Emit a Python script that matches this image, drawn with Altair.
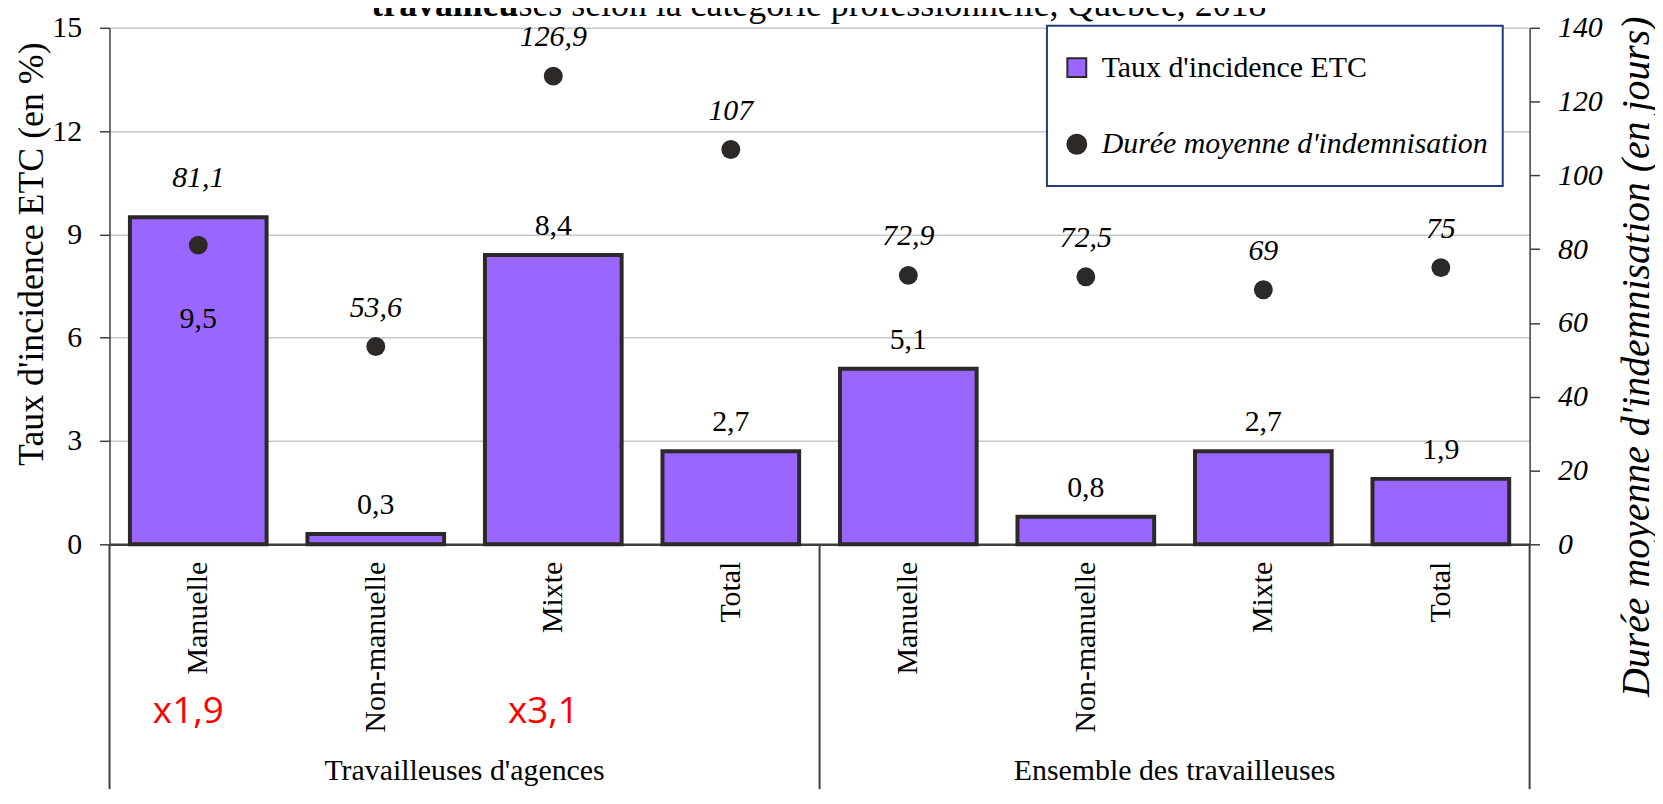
import json
import altair as alt
import pandas as pd

# ---------------- data ----------------
groups = ["Travailleuses d'agences"] * 4 + ["Ensemble des travailleuses"] * 4
group_names = ["Travailleuses d'agences", "Ensemble des travailleuses"]
categories = ["Manuelle", "Non-manuelle", "Mixte", "Total"] * 2
taux = [9.5, 0.3, 8.4, 2.7, 5.1, 0.8, 2.7, 1.9]
duree = [81.1, 53.6, 126.9, 107, 72.9, 72.5, 69, 75]
ratios = ["x1,9", "", "x3,1", "", "", "", "", ""]
series = ["Taux d'incidence ETC", "Durée moyenne d'indemnisation"]
title_bold = "travailleu"
title_rest = "ses selon la catégorie professionnelle, Québec, 2018"
left_ticks = [0, 3, 6, 9, 12, 15]
right_ticks = [0, 20, 40, 60, 80, 100, 120, 140]
left_title = "Taux d'incidence ETC (en %)"
right_title = "Durée moyenne d'indemnisation (en jours)"

keys = [f"{g}|{c}" for g, c in zip(groups, categories)]
df = pd.DataFrame({"groupe": groups, "categorie": categories, "key": keys,
                   "taux": taux, "duree": duree, "ratio": ratios})
gdf = pd.DataFrame({"groupe": group_names,
                    "key": [f"{g}|Non-manuelle" for g in group_names]})
tdf = pd.DataFrame({"bold": [title_bold], "rest": [title_rest]})

# ---------------- style ----------------
SERIF = "Liberation Serif"
PURPLE = "#9966ff"
DARK = "#2d2926"
GRID = "#c8c8c8"
AXIS = "#3f3f3f"
NAVY = "#203c7c"
W, H = 1427, 519
BOTTOM = 246

def xscale():
    return alt.Scale(domain=keys, paddingInner=0, paddingOuter=0)

def yl():
    return alt.Scale(domain=[0, 15], nice=False, zero=True)

def yr():
    return alt.Scale(domain=[0, 140], nice=False, zero=True)

fill_scale = alt.Scale(domain=series, range=[PURPLE, DARK])
shape_scale = alt.Scale(domain=series, range=["square", "circle"])

legend = alt.Legend(
    title=None, orient="none", legendX=942, legendY=-2, direction="vertical",
    fillColor="white", strokeColor=NAVY, padding=15, rowPadding=23, clipHeight=54,
    symbolSize=361, symbolStrokeColor=DARK, symbolStrokeWidth=2,
    labelFont=SERIF, labelFontSize=30, labelColor="black", labelOffset=10,
    labelLimit=700,
    labelFontStyle={"expr": "indexof(datum.label, 'Dur') == 0 ? 'italic' : 'normal'"},
)

x_axis = alt.Axis(
    title=None, labelExpr="split(datum.label, '|')[1]", labelAngle=270,
    labelFont=SERIF, labelFontSize=30, labelColor="black", labelPadding=17,
    ticks=False, domainColor=AXIS, domainWidth=2.5, labelLimit=400, grid=False,
)
left_axis = alt.Axis(
    orient="left", values=left_ticks, grid=True, gridColor=GRID, gridWidth=1.5,
    domainColor=AXIS, domainWidth=1.5, tickColor=AXIS, tickSize=10, tickWidth=1.5,
    labelFont=SERIF, labelFontSize=30, labelColor="black", labelPadding=18,
    title=left_title, titleFont=SERIF, titleFontSize=36, titleFontWeight="normal",
    titleColor="black", titleAngle=270, titleX=-78, titleY=227,
    titleAlign="center", titleBaseline="middle",
)
right_axis = alt.Axis(
    orient="right", values=right_ticks, grid=False,
    domainColor=AXIS, domainWidth=1.5, tickColor=AXIS, tickSize=10, tickWidth=1.5,
    labelFont=SERIF, labelFontSize=30, labelFontStyle="italic", labelColor="black",
    labelPadding=18,
    title=right_title, titleFont=SERIF, titleFontSize=40, titleFontWeight="normal",
    titleFontStyle="italic", titleColor="black", titleAngle=270, titleX=107, titleY=330,
    titleAlign="center", titleBaseline="middle",
)

base = alt.Chart(df)

def X(**kw):
    return alt.X("key:N", scale=xscale(), axis=x_axis, **kw)

bars = base.transform_calculate(serie=json.dumps(series[0])).mark_bar(
    stroke=DARK, strokeWidth=4, width=alt.RelativeBandSize(0.77)).encode(
    x=X(),
    y=alt.Y("taux:Q", scale=yl(), axis=left_axis),
    fill=alt.Fill("serie:N", scale=fill_scale, legend=legend),
)

pts = base.transform_calculate(serie=json.dumps(series[1])).mark_point(
    filled=True, size=361, opacity=1).encode(
    x=X(), y=alt.Y("duree:Q", scale=yr(), axis=right_axis),
    fill=alt.Fill("serie:N", scale=fill_scale, legend=legend),
    shape=alt.Shape("serie:N", scale=shape_scale, legend=legend),
)

rules_start = base.transform_filter("datum.categorie == 'Manuelle'").transform_calculate(
    zero="0").mark_rule(color=AXIS, strokeWidth=2).encode(
    x=X(bandPosition=0), y=alt.Y("zero:Q", scale=yl(), axis=None), y2=alt.value(H + BOTTOM))
rules_end = base.transform_filter(
    "datum.categorie == 'Total' && datum.groupe == 'Ensemble des travailleuses'"
).transform_calculate(zero="0").mark_rule(color=AXIS, strokeWidth=2).encode(
    x=X(bandPosition=1), y=alt.Y("zero:Q", scale=yl(), axis=None), y2=alt.value(H + BOTTOM))

barlab = base.transform_calculate(
    ly="datum.duree*15/140 < datum.taux ? datum.duree*15/140 - 3.0 : datum.taux",
    txt="replace(format(datum.taux, '.1f'), '.', ',')",
).mark_text(dy=-29, font=SERIF, fontSize=30, color="black", baseline="middle").encode(
    x=X(), y=alt.Y("ly:Q", scale=yl(), axis=None), text="txt:N")

ptlab = base.transform_calculate(
    ly="max(datum.duree, datum.taux*140/15)",
    txt="replace(toString(datum.duree), '.', ',')",
).mark_text(dy=-39, font=SERIF, fontSize=30, fontStyle="italic", color="black",
            baseline="middle").encode(
    x=X(), y=alt.Y("ly:Q", scale=yr(), axis=None), text="txt:N")

t1 = alt.Chart(tdf).mark_text(font=SERIF, fontSize=36, fontWeight="bold", align="right",
                              baseline="alphabetic", color="black").encode(
    text="bold:N", x=alt.value(411), y=alt.value(-12))
t2 = alt.Chart(tdf).mark_text(font=SERIF, fontSize=36, align="left",
                              baseline="alphabetic", color="black").encode(
    text="rest:N", x=alt.value(411), y=alt.value(-12))

glab = alt.Chart(gdf).mark_text(font=SERIF, fontSize=30, baseline="middle", color="black").encode(
    x=X(bandPosition=1), y=alt.value(747), text="groupe:N")

rlab = base.transform_filter("datum.ratio != ''").mark_text(
    font="Open Sans", fontSize=37, color="#ff0000", dx=-10, baseline="middle").encode(
    x=X(), y=alt.value(688), text="ratio:N")

chart = alt.layer(
    bars, pts, rules_start, rules_end, barlab, ptlab, t1, t2, glab, rlab
).resolve_scale(y="independent").properties(
    width=W, height=H,
    padding={"left": 102, "top": 18, "right": 126, "bottom": BOTTOM},
    autosize=alt.AutoSizeParams(type="none"),
).configure_view(stroke=None).configure_legend(strokeWidth=2)

chart.save("out.html", embed_options={"renderer": "svg", "actions": False})
